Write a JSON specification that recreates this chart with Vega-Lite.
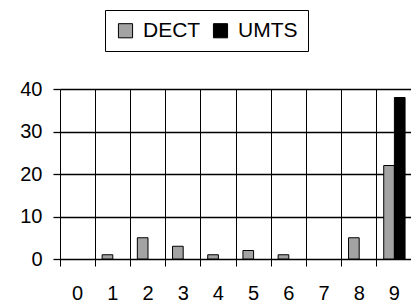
{
  "$schema": "https://vega.github.io/schema/vega-lite/v6.json",
  "autosize": "none",
  "padding": {"left": 60, "top": 89, "right": 0, "bottom": 44},
  "width": 352,
  "height": 170,
  "background": "white",
  "config": {
    "font": "Liberation Sans",
    "view": {"stroke": null}
  },
  "data": {
    "values": [
      {"bin": "1", "system": "DECT", "count": 1},
      {"bin": "2", "system": "DECT", "count": 5},
      {"bin": "3", "system": "DECT", "count": 3},
      {"bin": "4", "system": "DECT", "count": 1},
      {"bin": "5", "system": "DECT", "count": 2},
      {"bin": "6", "system": "DECT", "count": 1},
      {"bin": "8", "system": "DECT", "count": 5},
      {"bin": "9", "system": "DECT", "count": 22},
      {"bin": "9", "system": "UMTS", "count": 38}
    ]
  },
  "mark": {"type": "bar", "stroke": "black", "strokeWidth": 1},
  "encoding": {
    "x": {
      "field": "bin",
      "type": "nominal",
      "sort": null,
      "scale": {"domain": ["0","1","2","3","4","5","6","7","8","9"], "paddingInner": 0, "paddingOuter": 0},
      "axis": {
        "title": null,
        "labelAngle": 0,
        "bandPosition": 0,
        "labelOffset": 0,
        "grid": true,
        "gridColor": "black",
        "gridOpacity": 1,
        "gridWidth": 1,
        "domain": false,
        "ticks": true,
        "tickSize": 7,
        "tickColor": "black",
        "tickWidth": 1,
        "labelPadding": 17,
        "labelFontSize": 20,
        "labelColor": "black",
        "labelFont": "Liberation Sans"
      }
    },
    "xOffset": {
      "field": "system",
      "type": "nominal",
      "scale": {"domain": ["DECT", "UMTS"], "paddingOuter": 0.65, "paddingInner": 0}
    },
    "y": {
      "field": "count",
      "type": "quantitative",
      "scale": {"domain": [0, 40], "nice": false},
      "axis": {
        "title": null,
        "values": [0, 10, 20, 30, 40],
        "grid": true,
        "gridColor": "black",
        "gridOpacity": 1,
        "gridWidth": 1.3,
        "domain": false,
        "tickSize": 7,
        "tickColor": "black",
        "tickWidth": 1.3,
        "labelPadding": 11,
        "labelFontSize": 20,
        "labelColor": "black",
        "labelFont": "Liberation Sans"
      }
    },
    "color": {
      "field": "system",
      "type": "nominal",
      "scale": {"domain": ["DECT", "UMTS"], "range": ["#a3a3a3", "#000000"]},
      "legend": {
        "title": null,
        "orient": "none",
        "direction": "horizontal",
        "legendX": 45,
        "legendY": -79,
        "strokeColor": "black",
        "padding": 10,
        "symbolType": "square",
        "symbolSize": 200,
        "symbolStrokeColor": "black",
        "symbolStrokeWidth": 1,
        "symbolOpacity": 1,
        "labelFontSize": 21,
        "labelColor": "black",
        "labelFont": "Liberation Sans",
        "labelOffset": 7,
        "columnPadding": 9
      }
    }
  }
}
